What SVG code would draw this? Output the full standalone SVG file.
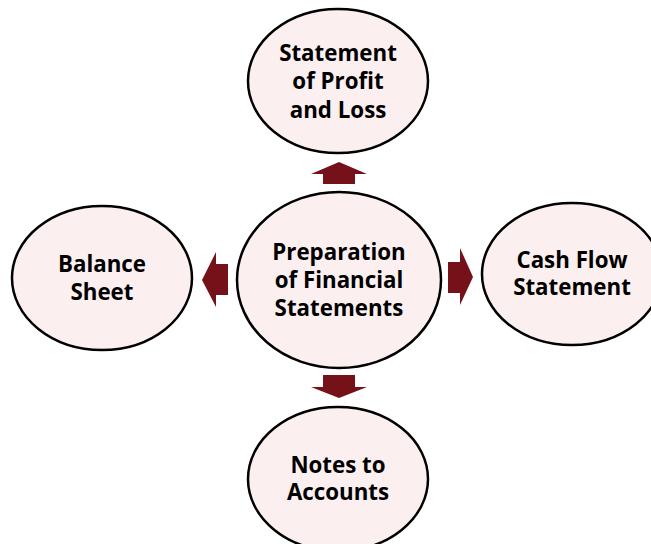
<svg xmlns="http://www.w3.org/2000/svg" width="651" height="544" viewBox="0 0 651 544">
<style>
.n{fill:#fcefef;stroke:#000;stroke-width:2.5}
.a{fill:#741119}
text{font-family:"Open Sans","Noto Sans","Liberation Sans",sans-serif;font-weight:bold;font-size:22.3px;fill:#000;text-anchor:middle}
</style>
<rect width="651" height="544" fill="#fff"/>
<g id="connectors">
<polygon class="a" points="339,162 367,174 355,174 355,184 323,184 323,174 311,174"/>
<polygon class="a" points="202,280 216,252 216,264 228,264 228,295 216,295 216,307"/>
<polygon class="a" points="473,277 460,248 460,262 448,262 448,293 460,293 460,305"/>
<polygon class="a" points="339,398 367,387 355,387 355,375 323,375 323,387 311,387"/>
</g>
<g id="center"><ellipse class="n" cx="339" cy="280" rx="102" ry="88"/>
<text x="339" y="260">Preparation</text><text x="339" y="288">of Financial</text><text x="339" y="316">Statements</text></g>
<g id="top"><ellipse class="n" cx="338" cy="81" rx="90" ry="72"/>
<text x="338" y="61">Statement</text><text x="338" y="89">of Profit</text><text x="338" y="118">and Loss</text></g>
<g id="left"><ellipse class="n" cx="102" cy="278" rx="90" ry="72"/>
<text x="102" y="272">Balance</text><text x="102" y="300">Sheet</text></g>
<g id="right"><ellipse class="n" cx="572" cy="274" rx="90" ry="71"/>
<text x="572" y="268">Cash Flow</text><text x="572" y="295">Statement</text></g>
<g id="bottom"><ellipse class="n" cx="338" cy="479" rx="90" ry="72"/>
<text x="338" y="473">Notes to</text><text x="338" y="500">Accounts</text></g>
</svg>
